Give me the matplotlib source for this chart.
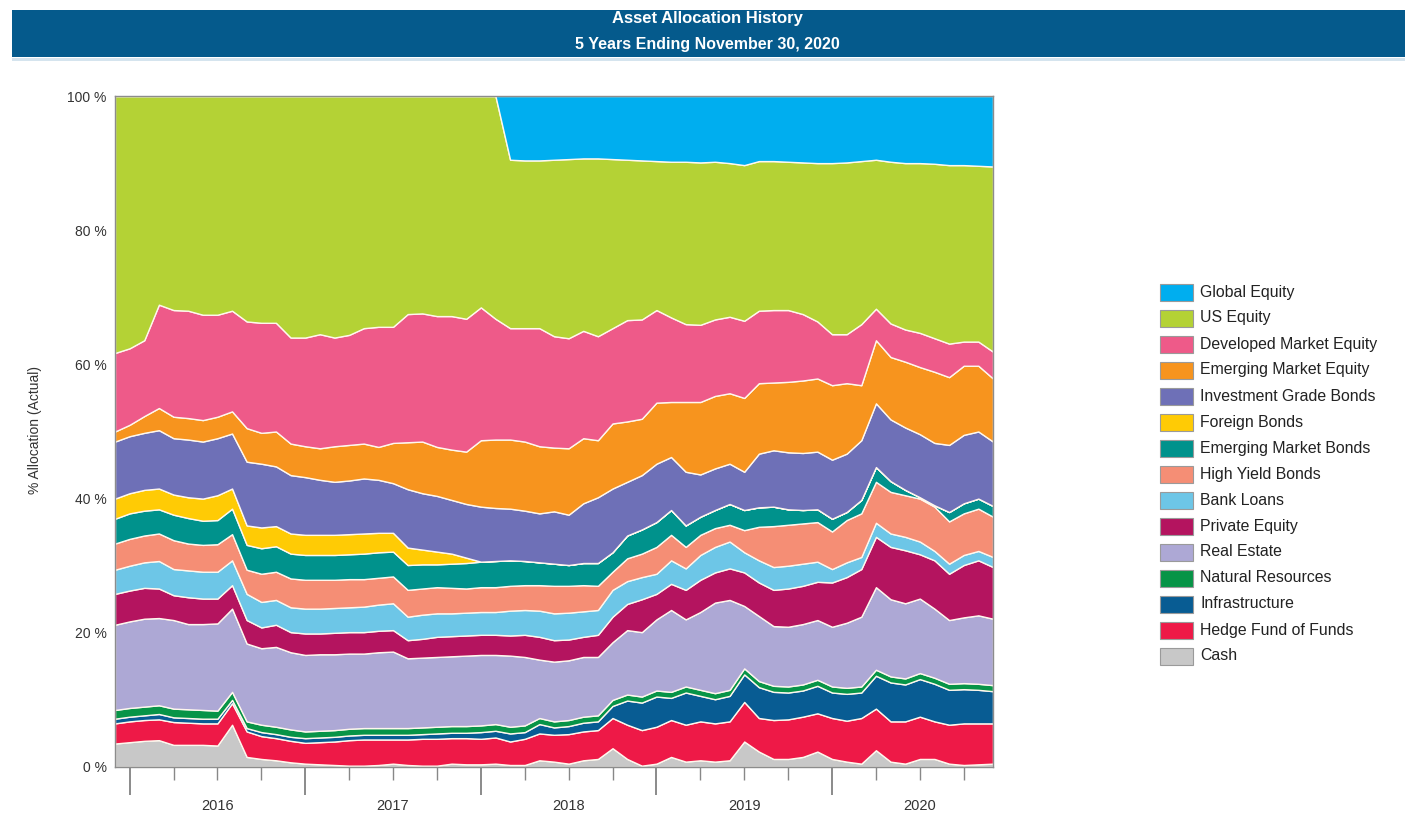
import matplotlib
matplotlib.use("Agg")
import matplotlib.pyplot as plt
from matplotlib.patches import Rectangle
from matplotlib.transforms import blended_transform_factory
import numpy as np

plt.rcParams['font.family'] = ['Liberation Sans', 'DejaVu Sans']

# month index: 0 = Nov 30 2015 ... 60 = Nov 30 2020
months = np.arange(61)
year_labels = ['2016', '2017', '2018', '2019', '2020']
year_centers = [7, 19, 31, 43, 55]
year_ticks = [1, 13, 25, 37, 49]

cash = [3.5, 3.7, 3.9, 4.0, 3.3, 3.3, 3.3, 3.2, 6.3, 1.5,
        1.2, 1.0, 0.7, 0.5, 0.4, 0.3, 0.2, 0.2, 0.3, 0.5,
        0.3, 0.2, 0.2, 0.5, 0.4, 0.4, 0.5, 0.3, 0.3, 1.0,
        0.8, 0.5, 1.0, 1.2, 2.8, 1.2, 0.2, 0.5, 1.5, 0.8,
        1.0, 0.8, 1.0, 3.8, 2.3, 1.2, 1.2, 1.5, 2.3, 1.2,
        0.8, 0.5, 2.5, 0.8, 0.5, 1.2, 1.2, 0.5, 0.3, 0.4, 0.5]
hedge = [3.0, 3.1, 3.1, 3.1, 3.4, 3.3, 3.2, 3.3, 3.2, 3.8,
         3.4, 3.3, 3.2, 3.1, 3.3, 3.5, 3.8, 3.9, 3.8, 3.6,
         3.8, 4.0, 4.0, 3.8, 3.9, 3.8, 3.9, 3.5, 3.9, 4.0,
         4.0, 4.4, 4.3, 4.3, 4.5, 5.1, 5.3, 5.5, 5.5, 5.5,
         5.8, 5.7, 5.8, 5.9, 5.0, 5.8, 5.9, 6.0, 5.7, 6.1,
         6.1, 6.8, 6.2, 6.0, 6.3, 6.3, 5.6, 5.8, 6.2, 6.1, 6.0]
infra = [0.7, 0.7, 0.7, 0.8, 0.7, 0.7, 0.7, 0.7, 0.5, 0.5,
         0.6, 0.6, 0.6, 0.7, 0.7, 0.7, 0.7, 0.7, 0.7, 0.7,
         0.7, 0.7, 0.8, 0.8, 0.8, 1.0, 1.0, 1.2, 1.0, 1.4,
         1.1, 1.2, 1.3, 1.3, 1.8, 3.6, 4.1, 4.5, 3.3, 4.8,
         3.8, 3.6, 3.8, 4.1, 4.6, 4.2, 4.0, 3.9, 4.1, 3.8,
         4.0, 3.8, 4.9, 5.8, 5.5, 5.6, 5.6, 5.2, 5.1, 5.0, 4.8]
natres = [1.3, 1.3, 1.3, 1.3, 1.3, 1.3, 1.3, 1.2, 1.2, 1.0,
          1.1, 1.1, 1.1, 1.0, 1.0, 1.0, 1.0, 1.0, 1.0, 1.0,
          1.0, 1.0, 1.0, 1.0, 1.0, 1.0, 1.0, 1.0, 1.0, 0.9,
          0.9, 0.9, 0.9, 0.9, 0.9, 0.9, 0.9, 0.9, 0.9, 0.9,
          0.9, 0.9, 0.9, 0.9, 0.9, 0.9, 0.9, 0.9, 0.9, 0.9,
          0.9, 0.9, 0.9, 0.9, 0.9, 0.9, 0.9, 0.9, 0.9, 0.9, 0.9]
realestate = [12.7, 12.9, 13.1, 13.0, 13.2, 12.7, 12.8, 13.0, 12.4, 11.6,
              11.4, 11.9, 11.5, 11.4, 11.4, 11.3, 11.2, 11.1, 11.3, 11.4,
              10.4, 10.4, 10.4, 10.4, 10.5, 10.5, 10.3, 10.6, 10.2, 8.7,
              8.9, 8.9, 8.9, 8.7, 8.6, 9.6, 9.6, 10.6, 12.2, 10.0,
              11.6, 13.5, 13.4, 9.3, 9.7, 8.9, 8.9, 9.0, 8.9, 8.9,
              9.7, 10.4, 12.3, 11.5, 11.2, 11.1, 10.3, 9.5, 9.8, 10.2, 9.9]
privateeq = [4.6, 4.6, 4.6, 4.4, 3.7, 4.0, 3.8, 3.7, 3.5, 3.5,
             3.1, 3.3, 3.0, 3.2, 3.1, 3.2, 3.2, 3.2, 3.2, 3.2,
             2.7, 2.8, 3.0, 3.0, 3.0, 3.0, 3.0, 3.0, 3.3, 3.4,
             3.2, 3.1, 3.0, 3.3, 3.8, 3.9, 4.9, 3.8, 3.9, 4.4,
             4.8, 4.5, 4.7, 5.0, 5.0, 5.4, 5.7, 5.7, 5.7, 6.6,
             6.8, 7.1, 7.5, 7.8, 7.9, 6.6, 7.2, 6.9, 7.8, 8.2, 7.7]
bankloans = [3.6, 3.7, 3.8, 4.1, 3.9, 4.0, 4.0, 4.0, 3.7, 3.9,
             3.8, 3.7, 3.7, 3.7, 3.7, 3.7, 3.7, 3.8, 3.9, 4.0,
             3.5, 3.6, 3.5, 3.4, 3.4, 3.4, 3.4, 3.7, 3.7, 3.9,
             4.0, 4.0, 3.8, 3.7, 4.0, 3.4, 3.3, 3.0, 3.5, 3.2,
             3.7, 3.8, 4.0, 3.0, 3.3, 3.4, 3.4, 3.3, 3.0, 2.0,
             2.2, 1.8, 2.1, 2.0, 2.0, 1.9, 1.4, 1.5, 1.5, 1.4, 1.5]
highyield = [3.9, 4.0, 4.0, 4.1, 4.3, 4.0, 4.0, 4.1, 3.9, 3.6,
             4.2, 4.2, 4.3, 4.3, 4.3, 4.2, 4.2, 4.1, 4.0, 4.0,
             4.0, 3.9, 3.9, 3.8, 3.6, 3.7, 3.7, 3.7, 3.7, 3.8,
             4.1, 4.0, 3.9, 3.6, 2.7, 3.4, 3.5, 4.0, 3.8, 3.2,
             3.0, 2.8, 2.5, 3.3, 5.0, 6.1, 6.1, 6.0, 5.9, 5.6,
             6.3, 6.5, 6.1, 6.2, 6.2, 6.4, 6.6, 6.3, 6.2, 6.3, 6.0]
embonds = [3.7, 3.8, 3.7, 3.6, 3.8, 3.8, 3.6, 3.6, 3.8, 3.7,
           3.8, 3.8, 3.7, 3.7, 3.7, 3.7, 3.7, 3.8, 3.8, 3.7,
           3.7, 3.6, 3.4, 3.6, 3.8, 3.8, 3.9, 3.8, 3.6, 3.4,
           3.3, 3.1, 3.3, 3.4, 2.9, 3.4, 3.6, 3.7, 3.7, 3.2,
           2.7, 2.7, 3.1, 3.0, 2.9, 2.9, 2.3, 2.0, 1.9, 1.9,
           1.2, 2.0, 2.2, 1.6, 0.8, 0.2, 0.2, 1.4, 1.5, 1.5, 1.6]
foreign = [3.0, 3.0, 3.1, 3.1, 3.0, 3.1, 3.3, 3.7, 3.0, 2.9,
           3.1, 3.0, 3.0, 3.0, 3.0, 3.0, 3.0, 3.0, 2.9, 2.8,
           2.6, 2.2, 1.9, 1.5, 0.8, 0.0, 0.0, 0.0, 0.0, 0.0,
           0.0, 0.0, 0.0, 0.0, 0.0, 0.0, 0.0, 0.0, 0.0, 0.0,
           0.0, 0.0, 0.0, 0.0, 0.0, 0.0, 0.0, 0.0, 0.0, 0.0,
           0.0, 0.0, 0.0, 0.0, 0.0, 0.0, 0.0, 0.0, 0.0, 0.0, 0.0]
igbonds = [8.5, 8.5, 8.5, 8.7, 8.4, 8.6, 8.5, 8.5, 8.2, 9.5,
           9.5, 8.9, 8.7, 8.6, 8.2, 7.9, 8.0, 8.2, 7.9, 7.4,
           8.7, 8.4, 8.3, 8.0, 8.0, 8.2, 7.9, 7.7, 7.5, 7.3,
           7.8, 7.5, 8.9, 9.8, 9.5, 8.0, 8.1, 8.7, 7.9, 8.0,
           6.3, 6.2, 6.0, 5.7, 8.0, 8.4, 8.5, 8.5, 8.6, 8.8,
           8.7, 8.9, 9.5, 9.2, 9.3, 9.4, 9.3, 10.0, 10.2, 10.0, 9.6]
emequity = [1.5, 1.7, 2.5, 3.3, 3.2, 3.2, 3.2, 3.2, 3.3, 5.0,
            4.6, 5.2, 4.7, 4.6, 4.7, 5.3, 5.3, 5.2, 4.9, 6.0,
            7.0, 7.7, 7.3, 7.5, 7.8, 9.9, 10.2, 10.3, 10.3, 10.0,
            9.5, 9.9, 9.7, 8.5, 9.7, 9.0, 8.4, 9.1, 8.2, 10.4,
            10.8, 10.8, 10.5, 11.0, 10.5, 10.1, 10.5, 10.8, 10.9, 11.1,
            10.5, 8.2, 9.4, 9.3, 9.8, 10.0, 10.6, 10.1, 10.3, 9.8, 9.4]
devequity = [11.7, 11.4, 11.3, 15.4, 15.9, 16.0, 15.7, 15.2, 15.0, 15.9,
             16.4, 16.2, 15.8, 16.2, 17.0, 16.2, 16.4, 17.2, 17.9, 17.3,
             19.1, 19.1, 19.5, 19.9, 19.8, 19.8, 18.0, 16.6, 16.9, 17.6,
             16.6, 16.4, 16.0, 15.5, 14.2, 15.1, 14.8, 13.8, 12.6, 11.6,
             11.5, 11.4, 11.4, 11.5, 10.8, 10.8, 10.7, 9.9, 8.5, 7.6,
             7.3, 9.1, 4.7, 5.0, 4.8, 5.1, 5.0, 5.0, 3.6, 3.6, 4.0]
usequity = [38.3, 37.6, 36.4, 31.1, 31.9, 32.0, 32.6, 32.6, 32.0, 33.6,
            33.8, 33.8, 36.0, 36.0, 35.5, 36.0, 35.6, 34.6, 34.4, 34.4,
            32.5, 32.4, 32.8, 32.8, 33.2, 31.5, 33.2, 25.1, 25.0, 25.0,
            26.3, 26.7, 25.7, 26.5, 25.2, 23.9, 23.7, 22.2, 23.2, 24.2,
            24.2, 23.5, 22.9, 23.2, 22.3, 22.2, 22.1, 22.6, 23.6, 25.5,
            25.6, 24.3, 22.2, 24.1, 24.8, 25.3, 26.0, 26.6, 26.3, 26.2, 27.6]
globalequity = [0.0] * 27 + [9.5, 9.6, 9.6,
                9.5, 9.4, 9.3, 9.3, 9.4, 9.5, 9.6, 9.7, 9.8, 9.8,
                9.9, 9.8, 10.0, 10.3, 9.7, 9.7, 9.8, 9.9, 10.0, 10.0,
                9.9, 9.7, 9.5, 9.8, 10.0, 10.0, 10.1, 10.3, 10.3, 10.4, 10.5]

names = ['Global Equity', 'US Equity', 'Developed Market Equity', 'Emerging Market Equity',
         'Investment Grade Bonds', 'Foreign Bonds', 'Emerging Market Bonds', 'High Yield Bonds',
         'Bank Loans', 'Private Equity', 'Real Estate', 'Natural Resources', 'Infrastructure',
         'Hedge Fund of Funds', 'Cash']
series = [globalequity, usequity, devequity, emequity, igbonds, foreign, embonds, highyield,
          bankloans, privateeq, realestate, natres, infra, hedge, cash]
colors = ['#00AEEF', '#B4D235', '#EE5A89', '#F7941E', '#6E70B7', '#FFCB05', '#00928C', '#F58E75',
          '#6DC6E7', '#B4145F', '#ADA8D5', '#079447', '#085C93', '#EE1947', '#C8C8C8']

W, H = 1411, 816
fig = plt.figure(figsize=(W / 100, H / 100), dpi=100)

# banner
fig.add_artist(Rectangle((12 / W, 1 - 57 / H), 1393 / W, 47 / H, transform=fig.transFigure,
                         facecolor='#055A8C', edgecolor='none'))
fig.add_artist(Rectangle((12 / W, 1 - 61 / H), 1393 / W, 3 / H, transform=fig.transFigure,
                         facecolor='#D5E4EE', edgecolor='none'))
fig.text(707 / W, 1 - 18 / H, 'Asset Allocation History', color='white', ha='center', va='center',
         fontsize=12, fontweight='bold', family=['Liberation Sans Narrow', 'Liberation Sans', 'DejaVu Sans'])
fig.text(707 / W, 1 - 45 / H, '5 Years Ending November 30, 2020', color='white', ha='center',
         va='center', fontsize=11.5, fontweight='bold',
         family=['Liberation Sans Narrow', 'Liberation Sans', 'DejaVu Sans'])

ax = fig.add_axes([115 / W, 49 / H, 878 / W, 671 / H])
ax.stackplot(months, *series[::-1], colors=colors[::-1], edgecolor='#FFF8EE', linewidth=1.0)
ax.set_xlim(0, 60)
ax.set_ylim(0, 100)

ax.set_yticks(range(0, 101, 20))
ax.set_yticklabels([f'{v} %' for v in range(0, 101, 20)])
ax.tick_params(axis='y', length=0, pad=6, labelsize=10, labelcolor='#333333')

minor = [m for m in range(1, 61, 3) if m not in year_ticks]
ax.set_xticks(year_ticks)
ax.set_xticks(minor, minor=True)
ax.tick_params(axis='x', which='major', length=20, width=1.2, color='#777777', labelbottom=False)
ax.tick_params(axis='x', which='minor', length=9, width=1.0, color='#888888', labelbottom=False)
trans = blended_transform_factory(ax.transData, ax.transAxes)
for pos, lab in zip(year_centers, year_labels):
    ax.text(pos, -0.058, lab, transform=trans, ha='center', va='center', fontsize=10.5, color='#333333')

for s in ax.spines.values():
    s.set_color('#8C8C8C')
    s.set_linewidth(1.0)

fig.text(35 / W, 1 - 430 / H, '% Allocation (Actual)', rotation=90, ha='center', va='center',
         fontsize=10, color='#333333')

# legend
for k, (nm, col) in enumerate(zip(names, colors)):
    yc = 292 + k * 26.0
    fig.add_artist(Rectangle((1160 / W, 1 - (yc + 8.5) / H), 33 / W, 17 / H, transform=fig.transFigure,
                             facecolor=col, edgecolor='#9A9A9A', linewidth=0.8))
    fig.text(1200 / W, 1 - yc / H, nm, ha='left', va='center', fontsize=11.4, color='#222222')

fig.savefig('out.png', dpi=100)
